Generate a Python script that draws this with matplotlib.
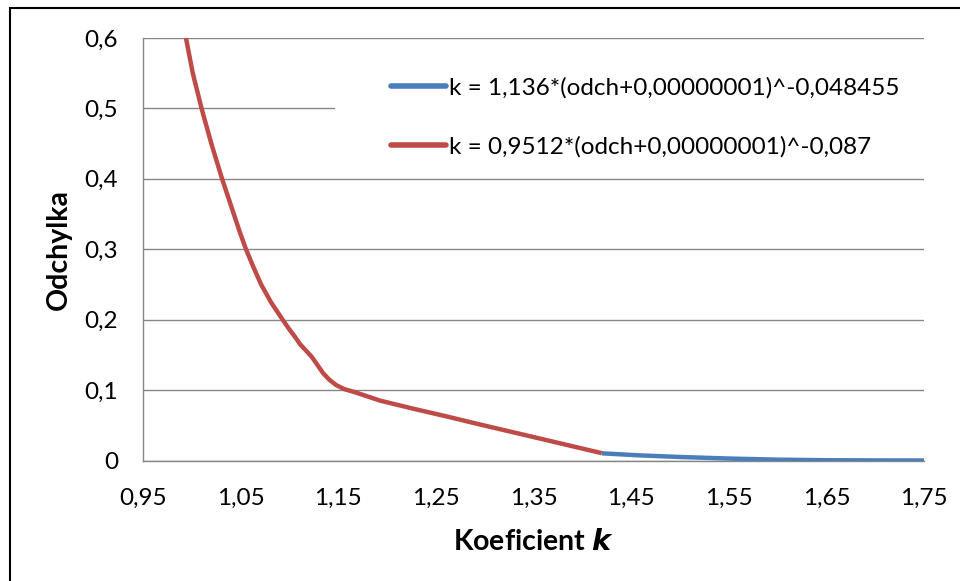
import matplotlib
matplotlib.use('Agg')
import numpy as np
import matplotlib.pyplot as plt
from matplotlib.patches import Rectangle
from matplotlib.ticker import FuncFormatter

# red curve (k = 0,9512*...)
k_red = [0.994, 0.9975, 1.001, 1.0055, 1.010, 1.015, 1.020, 1.0255, 1.031, 1.037,
         1.043, 1.049, 1.0555, 1.063, 1.071, 1.081, 1.093, 1.100, 1.106, 1.111,
         1.117, 1.123, 1.128, 1.1345, 1.141, 1.148, 1.156, 1.167, 1.180, 1.193,
         1.227, 1.261, 1.295, 1.343, 1.420]
odch_red = [0.600, 0.575, 0.550, 0.525, 0.500, 0.475, 0.450, 0.425, 0.400, 0.375,
            0.350, 0.325, 0.300, 0.275, 0.250, 0.225, 0.200, 0.186, 0.175, 0.165,
            0.156, 0.147, 0.137, 0.124, 0.1145, 0.107, 0.1015, 0.097, 0.091, 0.085,
            0.0735, 0.0626, 0.0512, 0.0356, 0.0104]
# blue curve (k = 1,136*...)
k_blue = [1.420, 1.460, 1.500, 1.550, 1.600, 1.650, 1.700, 1.750]
odch_blue = [0.0102, 0.0072, 0.0050, 0.0028, 0.0012, 0.0004, 0.0001, 0.0]

label_blue = 'k = 1,136*(odch+0,00000001)^-0,048455'
label_red = 'k = 0,9512*(odch+0,00000001)^-0,087'

xticks = [0.95, 1.05, 1.15, 1.25, 1.35, 1.45, 1.55, 1.65, 1.75]
yticks = [0, 0.1, 0.2, 0.3, 0.4, 0.5, 0.6]

plt.rcParams['font.family'] = ['Lato', 'DejaVu Sans']
fs = 17.5
grey = '#868686'

fig = plt.figure(figsize=(9.6, 5.81), dpi=100)
ax = fig.add_axes([143/960, 1 - 460.5/581, (924-143)/960, (460.5-38)/581])

ax.plot(k_blue, odch_blue, color='#4A7EBB', lw=3.2, solid_capstyle='butt',
        solid_joinstyle='round', label=label_blue, zorder=3)
ax.plot(k_red, odch_red, color='#BE4B48', lw=3.2, solid_capstyle='butt',
        solid_joinstyle='round', label=label_red, zorder=3)

ax.set_xlim(0.95, 1.75)
ax.set_ylim(0, 0.6)
ax.set_xticks(xticks)
ax.set_yticks(yticks)
comma = FuncFormatter(lambda v, p: ('%g' % round(v, 2)).replace('.', ','))
ax.xaxis.set_major_formatter(comma)
ax.yaxis.set_major_formatter(comma)
ax.tick_params(length=0, labelsize=fs, colors='black')
ax.tick_params(axis='y', pad=18)
ax.tick_params(axis='x', pad=20)
ax.yaxis.grid(True, color=grey, lw=1.0)
ax.set_axisbelow(True)
for s in ['top', 'right']:
    ax.spines[s].set_visible(False)
for s in ['left', 'bottom']:
    ax.spines[s].set_color(grey)
    ax.spines[s].set_linewidth(1.0)

# white legend area covering part of the gridlines
ax.add_patch(Rectangle(((335-143)/781, (460.5-170)/422.5), 1.0, (170-45)/422.5,
                       transform=ax.transAxes, facecolor='white', edgecolor='none',
                       zorder=1.5, clip_on=False))
leg = ax.legend(loc='upper left', bbox_to_anchor=(391/960, 1 - 77/581),
                bbox_transform=fig.transFigure, frameon=False, fontsize=fs,
                handlelength=2.25, handletextpad=0.15, labelspacing=1.54,
                borderpad=0, borderaxespad=0)
for h in leg.get_lines():
    h.set_linewidth(4)
    h.set_solid_capstyle('round')

ax.set_ylabel('Odchylka', fontsize=20.5, fontweight='bold', labelpad=9)
ax.set_xlabel('Koeficient $\\boldsymbol{k}$', fontsize=20.5, fontweight='bold', labelpad=14)

fig.patches.append(Rectangle((10/960, -0.1), 1.2, 1 - 8/581 + 0.1, transform=fig.transFigure,
                             fill=False, edgecolor='black', lw=1.5))

fig.savefig('out.png', dpi=100)
